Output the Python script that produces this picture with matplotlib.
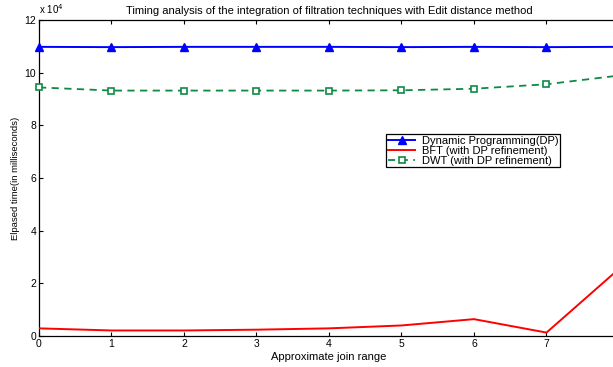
import matplotlib
matplotlib.use("Agg")
import matplotlib.pyplot as plt
from matplotlib.ticker import FuncFormatter

plt.rcParams['font.family'] = ['Liberation Sans', 'DejaVu Sans']

join_range = [0, 1, 2, 3, 4, 5, 6, 7, 8]
dp_times = [109800, 109700, 109800, 109800, 109800, 109700, 109800, 109700, 109800]
bft_times = [2900, 2100, 2100, 2400, 2900, 4000, 6400, 1300, 25500]
dwt_times = [94400, 93200, 93200, 93200, 93200, 93300, 93900, 95600, 98900]

title = "Timing analysis of the integration of filtration techniques with Edit distance method"
xlabel = "Approximate join range"
ylabel = "Elpased time(in milliseconds)"
labels = ["Dynamic Programming(DP)", "BFT (with DP refinement)", "DWT (with DP refinement)"]
xticks = [0, 1, 2, 3, 4, 5, 6, 7, 8]
xticklabels = ["0", "1", "2", "3", "4", "5", "6", "7", ""]
yticks = [0, 20000, 40000, 60000, 80000, 100000, 120000]

fig = plt.figure(figsize=(6.13, 3.67), dpi=100)
ax = fig.add_axes([39/613, 31/367, 580/613, 316/367])

fs = 7.5
ax.plot(join_range, dp_times, color='#0000ff', lw=1.4, marker='^', ms=5.5,
        mfc='#0000ff', mec='#0000ff', label=labels[0], clip_on=False, zorder=3)
ax.plot(join_range, bft_times, color='#ff0000', lw=1.4, label=labels[1], zorder=3)
ax.plot(join_range, dwt_times, color='#0e8a45', lw=1.3, ls=(0, (4, 3)), marker='s', ms=4,
        mfc='white', mec='#0e8a45', mew=1.2, label=labels[2], clip_on=False, zorder=3)

ax.set_xlim(0, 8)
ax.set_ylim(0, 120000)
ax.set_xticks(xticks)
ax.set_xticklabels(xticklabels)
ax.set_yticks(yticks)
ax.yaxis.set_major_formatter(FuncFormatter(lambda v, p: "%d" % round(v / 1e4)))
ax.tick_params(direction='in', length=3, width=0.8, labelsize=fs, top=True, right=True,
               pad=2, colors='black')
for s in ax.spines.values():
    s.set_linewidth(0.9)

ax.set_title(title, fontsize=8, pad=4)
ax.set_xlabel(xlabel, fontsize=8, labelpad=2)
ax.set_ylabel(ylabel, fontsize=6.8, labelpad=3)
ax.text(0.0, 1.012, r"x 10$^4$", transform=ax.transAxes, fontsize=fs - 0.5, ha='left', va='bottom')

leg = fig.legend(loc='upper left', bbox_to_anchor=(386/613, 1 - 134/367), fontsize=8,
                 frameon=True, fancybox=False, edgecolor='black', framealpha=1,
                 borderpad=0.15, labelspacing=0.0, handlelength=2.5, handletextpad=0.6,
                 borderaxespad=0)
leg.get_frame().set_linewidth(0.9)

fig.savefig("out.png", dpi=100)
